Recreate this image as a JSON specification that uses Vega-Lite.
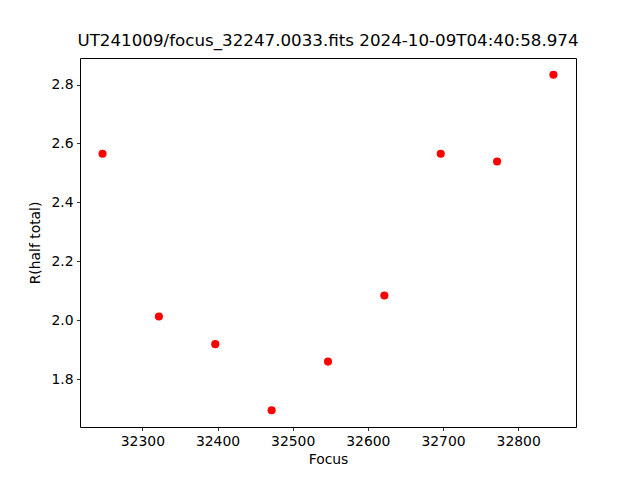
{
  "$schema": "https://vega.github.io/schema/vega-lite/v6.json",
  "width": 496,
  "height": 369,
  "autosize": {"type": "none"},
  "padding": {"left": 80, "top": 58, "right": 64, "bottom": 53},
  "background": "white",
  "title": {"text": "UT241009/focus_32247.0033.fits 2024-10-09T04:40:58.974", "font": "DejaVu Sans", "fontSize": 16.7, "fontWeight": "normal", "color": "black", "anchor": "middle", "offset": 8},
  "config": {
    "view": {"stroke": "black", "strokeWidth": 1},
    "axis": {"domain": false, "grid": false, "tickColor": "black", "tickSize": 3.5, "tickWidth": 0.8, "labelFont": "DejaVu Sans", "labelFontSize": 13.9, "labelColor": "black", "labelPadding": 3.5, "titleFont": "DejaVu Sans", "titleFontSize": 13.9, "titleFontWeight": "normal", "titleColor": "black"}
  },
  "data": {"values": [
    {"focus": 32247, "r": 2.565},
    {"focus": 32322, "r": 2.013},
    {"focus": 32397, "r": 1.919},
    {"focus": 32472, "r": 1.695},
    {"focus": 32547, "r": 1.860},
    {"focus": 32622, "r": 2.084},
    {"focus": 32697, "r": 2.565},
    {"focus": 32772, "r": 2.539},
    {"focus": 32847, "r": 2.833}
  ]},
  "mark": {"type": "point", "shape": "circle", "filled": true, "color": "red", "opacity": 1, "size": 66},
  "encoding": {
    "x": {"field": "focus", "type": "quantitative", "title": "Focus", "scale": {"domain": [32217, 32877], "nice": false, "zero": false}, "axis": {"values": [32300, 32400, 32500, 32600, 32700, 32800], "format": "d", "titlePadding": 5}},
    "y": {"field": "r", "type": "quantitative", "title": "R(half total)", "scale": {"domain": [1.638, 2.890], "nice": false, "zero": false}, "axis": {"values": [1.8, 2.0, 2.2, 2.4, 2.6, 2.8], "format": ".1f", "titlePadding": 8}}
  }
}
